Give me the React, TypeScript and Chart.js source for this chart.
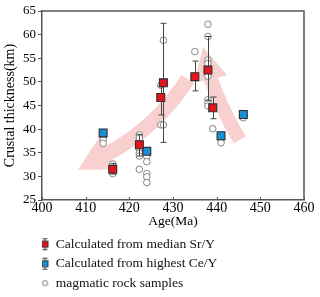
import React, { useEffect, useRef } from "react";
import { Chart, registerables } from "chart.js";

Chart.register(...registerables);

// ---- data ----
const xMin = 400;
const xMax = 460;
const xStep = 10;
const yMin = 25;
const yMax = 65;
const yStep = 5;

const xTitle = "Age(Ma)";
const yTitle = "Crustal thickness(km)";
const legendLabels = [
  "Calculated from median Sr/Y",
  "Calculated from highest Ce/Y",
  "magmatic rock samples",
];

// Calculated from median Sr/Y
const medianAge = [416.2, 422.3, 427.2, 427.8, 435.0, 438.0, 439.1];
const medianThk = [31.5, 36.7, 46.7, 49.8, 51.1, 52.5, 44.5];
const medianLow = [30.5, 34.3, 43.0, 37.2, 48.1, 46.0, 42.2];
const medianHigh = [32.7, 38.9, 49.0, 62.4, 54.4, 59.6, 46.8];

// Calculated from highest Ce/Y
const highAge = [414.0, 424.0, 441.0, 446.1];
const highThk = [39.2, 35.3, 38.6, 43.1];
const highLow = [38.6, 34.7, 38.0, 42.5];
const highHigh = [39.8, 35.9, 39.2, 43.7];

// magmatic rock samples
const sampleAge = [
  414.0, 414.0, 414.0, 414.0,
  416.2, 416.2,
  422.3, 422.3, 422.3, 422.3, 422.3, 422.3,
  424.0, 424.0, 424.0, 424.0, 424.0, 424.0,
  427.2, 427.2,
  427.8, 427.8,
  435.0,
  438.0, 438.0, 438.0, 438.0, 438.0, 438.0, 438.0, 438.0,
  439.1,
  441.0, 441.0,
  446.1,
];
const sampleThk = [
  38.9, 38.4, 37.7, 37.0,
  32.6, 30.6,
  38.8, 38.1, 35.6, 34.9, 34.3, 31.5,
  34.9, 34.2, 33.1, 30.6, 29.9, 28.7,
  49.3, 40.9,
  58.8, 40.9,
  56.4,
  62.2, 59.6, 54.6, 53.9, 51.2, 46.2, 45.6, 44.9,
  40.1,
  37.8, 37.1,
  42.4,
];

// decorative trend arrows (data units)
const arrowA = { tail: [433.4, 50.6], ctrl: [426.2, 40.4], base: [415.4, 35.0], tip: [408.2, 31.4], width: 15, half: 19 };
const arrowB = { tail: [445.3, 37.7], ctrl: [441.2, 44.0], base: [438.6, 50.6], tip: [436.9, 57.4], width: 14, half: 17 };

const RED = "#e3141c";
const BLUE = "#1b8fd6";
const EDGE = "#2f2f2f";
const AXIS = "#555555";
const PINK = "#f8d0d0";
const FONT = "'Liberation Serif', 'Times New Roman', serif";

function makeIcon(kind: "red" | "blue" | "circle") {
  const c = document.createElement("canvas");
  c.width = 20;
  c.height = 16;
  const g = c.getContext("2d")!;
  const cx = 6.5;
  const cy = 8;
  if (kind === "circle") {
    g.beginPath();
    g.arc(cx, cy, 2.6, 0, Math.PI * 2);
    g.fillStyle = "#fff";
    g.fill();
    g.strokeStyle = "#666";
    g.lineWidth = 0.9;
    g.stroke();
  } else {
    g.strokeStyle = "#444";
    g.lineWidth = 1;
    g.beginPath();
    g.moveTo(cx, 2.5);
    g.lineTo(cx, 13.5);
    g.moveTo(cx - 2.5, 2.5);
    g.lineTo(cx + 2.5, 2.5);
    g.moveTo(cx - 2.5, 13.5);
    g.lineTo(cx + 2.5, 13.5);
    g.stroke();
    g.fillStyle = kind === "red" ? RED : BLUE;
    g.fillRect(cx - 3, cy - 3, 6, 6);
    g.strokeStyle = EDGE;
    g.strokeRect(cx - 3, cy - 3, 6, 6);
  }
  return c;
}

const arrowsPlugin = {
  id: "trendArrows",
  beforeDatasetsDraw(chart: any) {
    const { ctx, scales } = chart;
    const xs = scales.x;
    const ys = scales.y;
    const P = (p: number[]) => [xs.getPixelForValue(p[0]), ys.getPixelForValue(p[1])];
    ctx.save();
    ctx.fillStyle = PINK;
    ctx.strokeStyle = PINK;
    for (const a of [arrowA, arrowB]) {
      const t = P(a.tail), c = P(a.ctrl), b = P(a.base), tip = P(a.tip);
      const dx = tip[0] - b[0], dy = tip[1] - b[1];
      const len = Math.hypot(dx, dy);
      const ux = dx / len, uy = dy / len;
      const nx = -uy, ny = ux;
      ctx.lineWidth = a.width;
      ctx.lineCap = "butt";
      ctx.beginPath();
      ctx.moveTo(t[0], t[1]);
      ctx.quadraticCurveTo(c[0], c[1], b[0] + ux * 2, b[1] + uy * 2);
      ctx.stroke();
      ctx.beginPath();
      ctx.moveTo(tip[0], tip[1]);
      ctx.lineTo(b[0] + nx * a.half, b[1] + ny * a.half);
      ctx.lineTo(b[0] - nx * a.half, b[1] - ny * a.half);
      ctx.closePath();
      ctx.fill();
    }
    ctx.restore();
  },
};

const errorBarsPlugin = {
  id: "errorBars",
  beforeDatasetDraw(chart: any, args: any) {
    const ds = chart.data.datasets[args.index];
    if (!ds.errLow) return;
    const { ctx } = chart;
    const ys = chart.scales.y;
    ctx.save();
    ctx.strokeStyle = "#444";
    ctx.lineWidth = 1;
    args.meta.data.forEach((el: any, i: number) => {
      const x = Math.round(el.x) + 0.5;
      const y1 = ys.getPixelForValue(ds.errLow[i]);
      const y2 = ys.getPixelForValue(ds.errHigh[i]);
      ctx.beginPath();
      ctx.moveTo(x, y1);
      ctx.lineTo(x, y2);
      ctx.moveTo(x - 3, y1);
      ctx.lineTo(x + 3, y1);
      ctx.moveTo(x - 3, y2);
      ctx.lineTo(x + 3, y2);
      ctx.stroke();
    });
    ctx.restore();
  },
};

const framePlugin = {
  id: "frame",
  afterDraw(chart: any) {
    const { ctx, chartArea } = chart;
    const { left, right, top, bottom } = chartArea;
    ctx.save();
    ctx.strokeStyle = AXIS;
    ctx.lineWidth = 1.5;
    ctx.beginPath();
    ctx.moveTo(left, top);
    ctx.lineTo(right, top);
    ctx.lineTo(right, bottom);
    ctx.stroke();
    ctx.lineWidth = 1;
    ctx.beginPath();
    chart.scales.x.ticks.forEach((t: any) => {
      const px = Math.round(chart.scales.x.getPixelForValue(t.value)) + 0.5;
      ctx.moveTo(px, bottom);
      ctx.lineTo(px, bottom - 3);
    });
    ctx.stroke();
    ctx.restore();
  },
};

export default function App() {
  const ref = useRef<HTMLCanvasElement | null>(null);

  useEffect(() => {
    document.body.style.margin = "0";
    const canvas = ref.current!;
    const icons = [makeIcon("red"), makeIcon("blue"), makeIcon("circle")];

    const chart = new Chart(canvas, {
      type: "scatter",
      data: {
        datasets: [
          {
            label: legendLabels[0],
            data: medianAge.map((a, i) => ({ x: a, y: medianThk[i] })),
            pointStyle: "rect",
            pointRadius: 5.6,
            backgroundColor: RED,
            borderColor: EDGE,
            borderWidth: 1.1,
            errLow: medianLow,
            errHigh: medianHigh,
          } as any,
          {
            label: legendLabels[1],
            data: highAge.map((a, i) => ({ x: a, y: highThk[i] })),
            pointStyle: "rect",
            pointRadius: 5.6,
            backgroundColor: BLUE,
            borderColor: EDGE,
            borderWidth: 1.1,
            errLow: highLow,
            errHigh: highHigh,
          } as any,
          {
            label: legendLabels[2],
            data: sampleAge.map((a, i) => ({ x: a, y: sampleThk[i] })),
            pointStyle: "circle",
            pointRadius: 3.3,
            backgroundColor: "#ffffff",
            borderColor: "#777777",
            borderWidth: 0.9,
          },
        ],
      },
      options: {
        animation: false,
        responsive: false,
        devicePixelRatio: 1,
        layout: { padding: { top: 11, right: 16, bottom: -3, left: 0 } },
        plugins: {
          tooltip: { enabled: false },
          legend: {
            display: true,
            position: "bottom",
            align: "start",
            fullSize: false,
            labels: {
              usePointStyle: true,
              pointStyleWidth: 1,
              padding: 6,
              color: "#111",
              font: { family: FONT, size: 13.5 },
              generateLabels: () =>
                legendLabels.map((text, i) => ({
                  text,
                  pointStyle: icons[i] as any,
                  fillStyle: "#fff",
                  strokeStyle: "#fff",
                  lineWidth: 0,
                  hidden: false,
                  datasetIndex: i,
                  fontColor: "#111",
                })),
            },
          },
        },
        scales: {
          x: {
            type: "linear",
            min: xMin,
            max: xMax,
            afterFit: (s: any) => {
              s.height = 31.5;
            },
            ticks: {
              stepSize: xStep,
              padding: 0,
              color: "#000",
              font: { family: FONT, size: 14 },
            },
            grid: { display: true, drawOnChartArea: false, drawTicks: false },
            border: { display: true, color: AXIS, width: 1.5 },
            title: {
              display: true,
              text: xTitle,
              color: "#000",
              font: { family: FONT, size: 13.5 },
              padding: { top: 0, bottom: 1.5 },
            },
          },
          y: {
            type: "linear",
            min: yMin,
            max: yMax,
            afterFit: (s: any) => {
              s.width = 42;
            },
            ticks: {
              stepSize: yStep,
              padding: 2,
              color: "#000",
              font: { family: FONT, size: 13 },
            },
            grid: { display: true, drawOnChartArea: false, drawTicks: true, tickLength: 4, color: AXIS },
            border: { display: true, color: AXIS, width: 1.5 },
            title: {
              display: true,
              text: yTitle,
              color: "#000",
              font: { family: FONT, size: 14 },
              padding: { top: 2, bottom: 0 },
            },
          },
        },
      } as any,
      plugins: [arrowsPlugin, errorBarsPlugin, framePlugin],
    });
    return () => chart.destroy();
  }, []);

  return (
    <div style={{ width: 320, height: 297 }}>
      <canvas ref={ref} width={320} height={297} style={{ display: "block" }} />
    </div>
  );
}
